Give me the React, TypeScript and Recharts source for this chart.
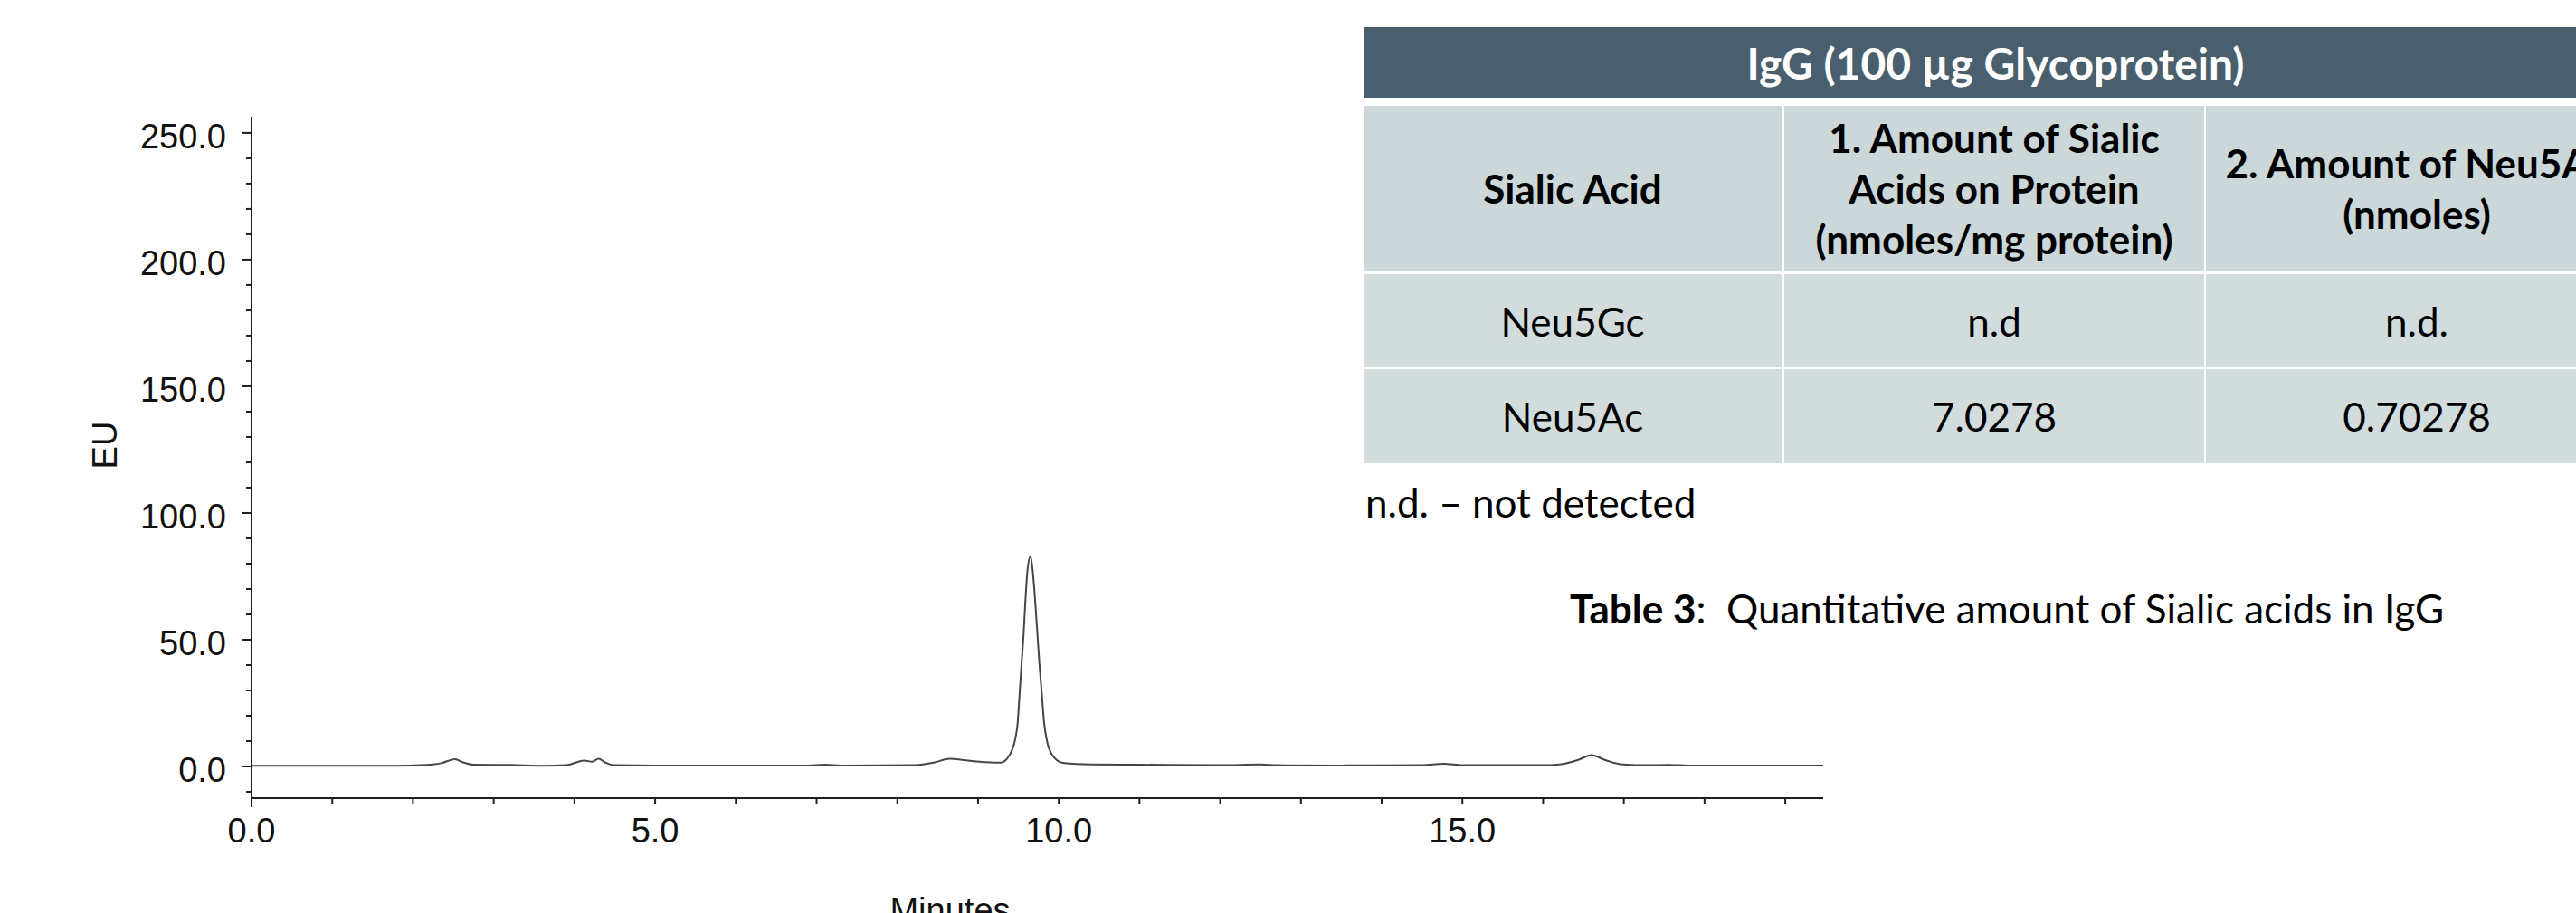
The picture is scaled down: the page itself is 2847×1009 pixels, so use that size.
import { Line, LineChart, XAxis, YAxis } from 'recharts'

// chromatogram trace (minutes, EU)
const times = [
  0.0, 1.0, 1.8, 2.1, 2.35, 2.52, 2.62, 2.75, 3.2, 3.6, 3.9, 4.05, 4.12, 4.22, 4.3, 4.38, 4.48, 5.0, 6.0,
  6.9, 7.1, 7.3, 8.2, 8.45, 8.65, 8.85, 9.1, 9.28, 9.4, 9.46, 9.49, 9.515, 9.54, 9.565, 9.585, 9.61, 9.65,
  9.68, 9.71, 9.735, 9.76, 9.79, 9.82, 9.85, 9.91, 10.05, 10.4, 11.0, 12.0, 12.5, 12.7, 13.5, 14.5, 14.77,
  15.0, 16.0, 16.2, 16.43, 16.6, 16.77, 16.99, 17.3, 17.55, 17.8, 19.47,
]
const signal = [
  0.3, 0.3, 0.3, 0.5, 1.3, 2.9, 1.6, 0.7, 0.6, 0.3, 0.5, 1.9, 2.3, 1.9, 3.0, 1.6, 0.5, 0.4, 0.4,
  0.4, 0.7, 0.4, 0.5, 1.5, 3.0, 2.4, 1.7, 1.5, 5.0, 10.7, 16.8, 28.6, 40.7, 52.5, 64.3, 76.4, 82.9,
  76.4, 64.3, 52.5, 40.7, 28.6, 16.8, 10.7, 5.0, 1.4, 0.8, 0.7, 0.5, 0.8, 0.5, 0.4, 0.5, 1.1,
  0.5, 0.5, 0.8, 2.5, 4.5, 2.5, 0.8, 0.5, 0.6, 0.4, 0.4,
]

const xTicks = [0, 1, 2, 3, 4, 5, 6, 7, 8, 9, 10, 11, 12, 13, 14, 15, 16, 17, 18, 19]
const yTicks = [-10, 0, 10, 20, 30, 40, 50, 60, 70, 80, 90, 100, 110, 120, 130, 140, 150, 160, 170, 180, 190, 200, 210, 220, 230, 240, 250]

// table contents
const tableTitle = 'IgG (100 µg Glycoprotein)'
const headerCells = [['Sialic Acid'], ['1. Amount of Sialic', 'Acids on Protein', '(nmoles/mg protein)'], ['2. Amount of Neu5Ac', '(nmoles)']]
const bodyRows = [
  ['Neu5Gc', 'n.d', 'n.d.'],
  ['Neu5Ac', '7.0278', '0.70278'],
]
const footnote = 'n.d. – not detected'
const captionBold = 'Table 3'
const captionText = ':  Quantitative amount of Sialic acids in IgG'

const data = times.map((t, i) => ({ t, eu: signal[i] }))

const axisFont = '"Liberation Sans", Arial, sans-serif'
const slideFont = 'Lato, "Open Sans", sans-serif'
const axisColor = '#1e1e1e'

function YTick({ x, y, payload }: any) {
  const major = payload.value % 50 === 0
  return (
    <g>
      <line x1={x - (major ? 10 : 6)} x2={x} y1={y} y2={y} stroke={axisColor} strokeWidth={2} />
      {major && (
        <text x={x - 28} y={y} dy={17} textAnchor="end" fontSize={38} fontFamily={axisFont} fill="#111">
          {payload.value.toFixed(1)}
        </text>
      )}
    </g>
  )
}

function XTick({ x, y, payload }: any) {
  const v = payload.value
  return (
    <g>
      <line x1={x} x2={x} y1={y} y2={y + (v === 0 ? 10 : 6)} stroke={axisColor} strokeWidth={2} />
      {v % 5 === 0 && (
        <text x={x} y={y + 49} textAnchor="middle" fontSize={38} fontFamily={axisFont} fill="#111">
          {v.toFixed(1)}
        </text>
      )}
    </g>
  )
}

const colLeft = [0, 465, 931]
const colWidth = [462, 464, 466]
const rowTop = [87, 273, 378]
const rowHeight = [182, 103, 104]

function Table() {
  const cell = (left: number, top: number, w: number, h: number, bg: string): React.CSSProperties => ({
    position: 'absolute',
    left,
    top,
    width: w,
    height: h,
    background: bg,
    display: 'flex',
    flexDirection: 'column',
    alignItems: 'center',
    justifyContent: 'center',
    textAlign: 'center',
  })
  return (
    <div style={{ position: 'absolute', left: 1507, top: 30, width: 1397, height: 482, fontFamily: slideFont }}>
      <div style={{ ...cell(0, 0, 1397, 78, '#4a5f6d'), color: '#fff', fontWeight: 700, fontSize: 48 }}>{tableTitle}</div>
      {headerCells.map((lines, c) => (
        <div key={c} style={{ ...cell(colLeft[c], rowTop[0], colWidth[c], rowHeight[0], '#cbd7d8'), fontWeight: 700, fontSize: 44, lineHeight: '56px', color: '#000' }}>
          {lines.map((l) => (
            <div key={l} style={{ whiteSpace: 'nowrap' }}>{l}</div>
          ))}
        </div>
      ))}
      {bodyRows.map((row, r) =>
        row.map((txt, c) => (
          <div key={r + '-' + c} style={{ ...cell(colLeft[c], rowTop[r + 1], colWidth[c], rowHeight[r + 1], '#d3dcdd'), fontSize: 44, color: '#000' }}>
            {txt}
          </div>
        )),
      )}
    </div>
  )
}

export default function App() {
  return (
    <div style={{ position: 'absolute', left: 0, top: 0, width: 2847, height: 1009, overflow: 'hidden', background: '#fff' }}>
      <div style={{ position: 'absolute', left: 0, top: 0 }}>
        <LineChart width={2847} height={1009} data={data} margin={{ top: 129, right: 832, left: 178, bottom: 67 }}>
          <XAxis
            dataKey="t"
            type="number"
            domain={[0, 19.47]}
            ticks={xTicks}
            interval={0}
            height={60}
            tickSize={0}
            tickMargin={0}
            tickLine={false}
            tick={<XTick />}
            axisLine={{ stroke: axisColor, strokeWidth: 2 }}
            allowDataOverflow
          />
          <YAxis
            type="number"
            domain={[-12.5, 256.4]}
            ticks={yTicks}
            interval={0}
            width={100}
            tickSize={0}
            tickMargin={0}
            tickLine={false}
            tick={<YTick />}
            axisLine={{ stroke: axisColor, strokeWidth: 2 }}
            allowDataOverflow
          />
          <Line type="monotone" dataKey="eu" stroke="#454545" strokeWidth={2} dot={false} isAnimationActive={false} />
        </LineChart>
      </div>
      <svg style={{ position: 'absolute', left: 0, top: 0 }} width={2847} height={1009}>
        <text transform="translate(129 492) rotate(-90)" textAnchor="middle" fontSize={38} fontFamily={axisFont} fill="#111">
          EU
        </text>
        <text x={1050} y={1019} textAnchor="middle" fontSize={38} fontFamily={axisFont} fill="#111">
          Minutes
        </text>
      </svg>
      <Table />
      <div style={{ position: 'absolute', left: 1509, top: 529, fontFamily: slideFont, fontSize: 44, whiteSpace: 'nowrap', color: '#000' }}>{footnote}</div>
      <div style={{ position: 'absolute', left: 1735, top: 646, fontFamily: slideFont, fontSize: 44, whiteSpace: 'pre', color: '#000' }}>
        <b>{captionBold}</b>
        {captionText}
      </div>
    </div>
  )
}
